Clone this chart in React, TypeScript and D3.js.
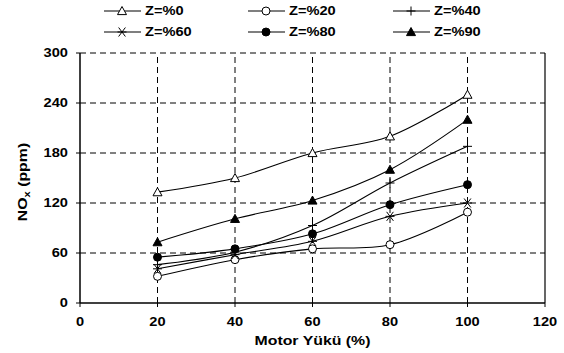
import * as d3 from 'd3';

const loads = [20, 40, 60, 80, 100];
const xTicks = [0, 20, 40, 60, 80, 100, 120];
const yTicks = [0, 60, 120, 180, 240, 300];

const z0 = [133, 150, 180, 200, 250];
const z20 = [32, 52, 65, 70, 109];
const z40 = [46, 61, 93, 144, 188];
const z60 = [41, 58, 74, 104, 120];
const z80 = [55, 65, 83, 118, 142];
const z90 = [73, 101, 123, 160, 220];

const seriesNames = ['Z=%0', 'Z=%20', 'Z=%40', 'Z=%60', 'Z=%80', 'Z=%90'];
const seriesValues = [z0, z20, z40, z60, z80, z90];
const markers = ['triOpen', 'circOpen', 'plus', 'star', 'circFill', 'triFill'];

const W = 564;
const H = 353;
const margin = { top: 53, right: 19, bottom: 50, left: 80 };
const FONT = '"Liberation Sans", Arial, sans-serif';
const SX = 1.22; // labels in the picture are a bit wide

function T({ x, y, anchor = 'start', size = 12, children }: any) {
  return (
    <g transform={`translate(${x},${y}) scale(${SX},1)`}>
      <text textAnchor={anchor} dy="0.35em" fontSize={size} fontWeight="bold">
        {children}
      </text>
    </g>
  );
}

function Marker({ type, x, y }: { type: string; x: number; y: number }) {
  const s = 4.5;
  if (type === 'triOpen' || type === 'triFill') {
    const p = `${x},${y - s} ${x + s},${y + s * 0.8} ${x - s},${y + s * 0.8}`;
    return <polygon points={p} fill={type === 'triFill' ? '#000' : '#fff'} stroke="#000" strokeWidth={1} />;
  }
  if (type === 'circOpen' || type === 'circFill') {
    return <circle cx={x} cy={y} r={4} fill={type === 'circFill' ? '#000' : '#fff'} stroke="#000" strokeWidth={1} />;
  }
  if (type === 'plus') {
    return (
      <g stroke="#000" strokeWidth={1}>
        <line x1={x - s} x2={x + s} y1={y} y2={y} />
        <line x1={x} x2={x} y1={y - s} y2={y + s} />
      </g>
    );
  }
  // star
  return (
    <g stroke="#000" strokeWidth={1}>
      <line x1={x - s} x2={x + s} y1={y} y2={y} />
      <line x1={x - s * 0.75} x2={x + s * 0.75} y1={y - s} y2={y + s} />
      <line x1={x - s * 0.75} x2={x + s * 0.75} y1={y + s} y2={y - s} />
    </g>
  );
}

export default function App() {
  const x = d3.scaleLinear().domain([0, 120]).range([margin.left, W - margin.right]);
  const y = d3.scaleLinear().domain([0, 300]).range([H - margin.bottom, margin.top]);

  const line = d3
    .line<number>()
    .x((_, i) => x(loads[i]))
    .y((d) => y(d))
    .curve(d3.curveCatmullRom.alpha(0.5));

  const legendCols = [104, 248, 393];
  const legendRows = [11, 32];

  return (
    <svg width={W} height={H} style={{ position: 'absolute', left: 0, top: 0 }} fontFamily={FONT}>
      <rect width={W} height={H} fill="#fff" />
      {/* grid */}
      {yTicks.slice(1).map((t) => (
        <line key={'gy' + t} x1={x(0)} x2={x(120)} y1={y(t)} y2={y(t)} stroke="#000" strokeWidth={1} strokeDasharray="6,4" />
      ))}
      {loads.map((t) => (
        <line key={'gx' + t} x1={x(t)} x2={x(t)} y1={y(0)} y2={y(300)} stroke="#000" strokeWidth={1} strokeDasharray="6,4" />
      ))}
      {/* frame */}
      <line x1={x(0)} x2={x(0)} y1={y(0)} y2={y(300)} stroke="#000" strokeWidth={1.5} />
      <line x1={x(0)} x2={x(120)} y1={y(0)} y2={y(0)} stroke="#000" strokeWidth={1.5} />
      <line x1={x(120)} x2={x(120)} y1={y(0)} y2={y(300)} stroke="#000" strokeWidth={1.2} />
      {/* ticks */}
      {yTicks.map((t) => (
        <g key={'ty' + t}>
          <line x1={x(0) - 4} x2={x(0)} y1={y(t)} y2={y(t)} stroke="#000" />
          <T x={x(0) - 12} y={y(t)} anchor="end">
            {t}
          </T>
        </g>
      ))}
      {xTicks.map((t) => (
        <g key={'tx' + t}>
          <line x1={x(t)} x2={x(t)} y1={y(0)} y2={y(0) + 4} stroke="#000" />
          <T x={x(t)} y={y(0) + 19} anchor="middle">
            {t}
          </T>
        </g>
      ))}
      <T x={x(60)} y={340} anchor="middle" size={13}>
        Motor Yükü (%)
      </T>
      <g transform={`translate(22,182) rotate(-90) scale(${SX},1)`}>
        <text textAnchor="middle" dy="0.35em" fontSize={13} fontWeight="bold">
          NO<tspan fontSize={9} dy={3}>x</tspan>
          <tspan dy={-3}> (ppm)</tspan>
        </text>
      </g>
      {/* series */}
      {seriesValues.map((vals, si) => (
        <path key={'l' + si} d={line(vals) || ''} fill="none" stroke="#000" strokeWidth={1.1} />
      ))}
      {seriesValues.map((vals, si) =>
        vals.map((v, i) => <Marker key={`m${si}-${i}`} type={markers[si]} x={x(loads[i])} y={y(v)} />)
      )}
      {/* legend */}
      {seriesNames.map((name, i) => {
        const lx = legendCols[i % 3];
        const ly = legendRows[Math.floor(i / 3)];
        return (
          <g key={'lg' + i}>
            <line x1={lx} x2={lx + 37} y1={ly} y2={ly} stroke="#000" strokeWidth={1.1} />
            <Marker type={markers[i]} x={lx + 18} y={ly} />
            <T x={lx + 41} y={ly}>
              {name}
            </T>
          </g>
        );
      })}
    </svg>
  );
}
